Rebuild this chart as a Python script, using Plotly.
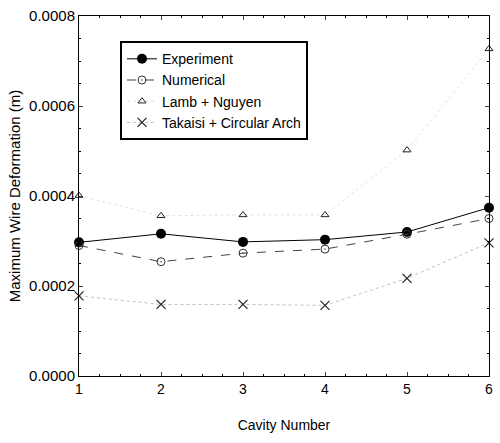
import plotly.graph_objects as go

cavity = [1, 2, 3, 4, 5, 6]
experiment = [0.000297, 0.000316, 0.000298, 0.000303, 0.000320, 0.000374]
numerical = [0.000290, 0.000254, 0.000273, 0.000282, 0.000315, 0.000350]
lamb_nguyen = [0.000401, 0.000356, 0.000358, 0.000358, 0.000502, 0.000727]
takaisi = [0.000178, 0.000159, 0.000159, 0.000157, 0.000217, 0.000296]
y_ticks = [0.0, 0.0002, 0.0004, 0.0006, 0.0008]
y_tick_labels = ["0.0000", "0.0002", "0.0004", "0.0006", "0.0008"]

fig = go.Figure()
fig.add_trace(go.Scatter(x=cavity, y=experiment, name="Experiment", mode="lines+markers",
                         cliponaxis=False,
                         line=dict(color="black", width=1),
                         marker=dict(symbol="circle", size=10, color="black")))
fig.add_trace(go.Scatter(x=cavity, y=numerical, name="Numerical", mode="lines+markers",
                         cliponaxis=False,
                         line=dict(color="#444", width=1, dash="dash"),
                         marker=dict(symbol="circle-open-dot", size=8, color="#333", line=dict(width=1))))
fig.add_trace(go.Scatter(x=cavity, y=lamb_nguyen, name="Lamb + Nguyen", mode="lines+markers",
                         cliponaxis=False,
                         line=dict(color="rgba(0,0,0,0.12)", width=1, dash="dot"),
                         marker=dict(symbol="triangle-up-open", size=7, color="#222", line=dict(width=1))))
fig.add_trace(go.Scatter(x=cavity, y=takaisi, name="Takaisi + Circular Arch", mode="lines+markers",
                         cliponaxis=False,
                         line=dict(color="rgba(0,0,0,0.25)", width=1, dash="dot"),
                         marker=dict(symbol="x-thin-open", size=9, color="#222", line=dict(width=1.2))))

fig.update_layout(
    width=500, height=443,
    margin=dict(l=79, r=7, t=14, b=67),
    paper_bgcolor="white", plot_bgcolor="white",
    font=dict(family="Liberation Sans, Arial, sans-serif", size=14, color="black"),
    showlegend=True,
    legend=dict(x=0.1, y=0.93, xanchor="left", yanchor="top",
                bordercolor="black", borderwidth=2, bgcolor="white",
                font=dict(size=14), itemwidth=30, tracegroupgap=0),
)
fig.update_xaxes(range=[1, 6], tickvals=cavity, ticks="inside", ticklen=4,
                 showline=True, linecolor="black", linewidth=1, mirror="ticks",
                 showgrid=False, zeroline=False,
                 title=dict(text="Cavity Number", font=dict(size=14), standoff=24),
                 tickfont=dict(size=14),
                 minor=dict(ticks="inside", ticklen=2, dtick=0.25, tickcolor="black"))
fig.update_yaxes(range=[0, 0.0008], tickvals=y_ticks, ticktext=y_tick_labels, ticks="inside", ticklen=4,
                 showline=True, linecolor="black", linewidth=1, mirror="ticks",
                 showgrid=False, zeroline=False,
                 title=dict(text="Maximum Wire Deformation (m)", font=dict(size=15), standoff=4),
                 tickfont=dict(size=15),
                 minor=dict(ticks="inside", ticklen=2, dtick=0.00005, tickcolor="black"))

fig.write_html("out.html", config={"displayModeBar": False},
               post_script="document.body.style.margin='0';")
